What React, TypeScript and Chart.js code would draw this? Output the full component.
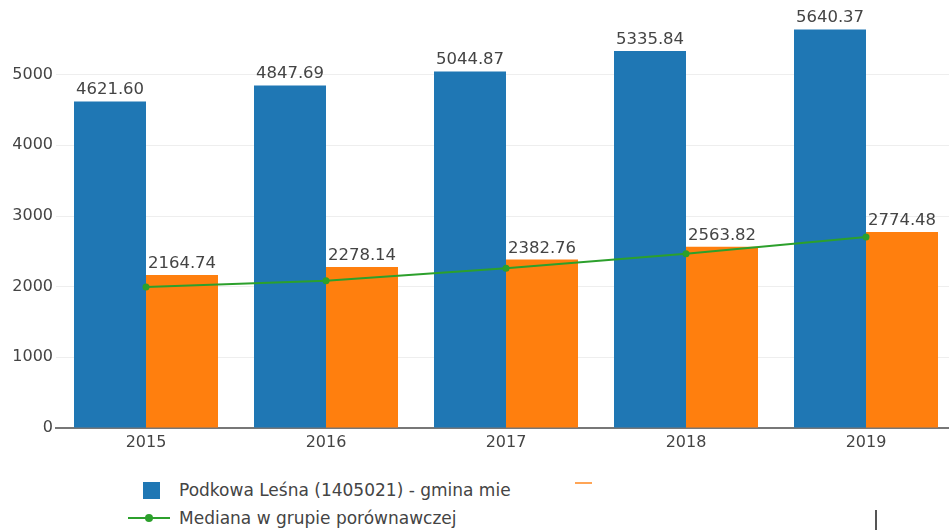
import React, { useEffect, useRef } from "react";
import { Chart, registerables } from "chart.js";

Chart.register(...registerables);

const years = ["2015", "2016", "2017", "2018", "2019"];
const podkowaValues = [4621.6, 4847.69, 5044.87, 5335.84, 5640.37];
const secondValues = [2164.74, 2278.14, 2382.76, 2563.82, 2774.48];
const medianValues = [1994, 2085, 2262, 2465, 2704];
const yTicks = [0, 1000, 2000, 3000, 4000, 5000];

const seriesNames = ["Podkowa Leśna (1405021) - gmina mie", "", "Mediana w grupie porównawczej"];

const FONT = "'DejaVu Sans', Verdana, sans-serif";

const barLabels = {
  id: "barLabels",
  afterDatasetDraw(chart: any, args: any) {
    const meta = args.meta;
    if (meta.type !== "bar") return;
    const ds = chart.data.datasets[args.index];
    const ctx = chart.ctx;
    ctx.save();
    ctx.font = `16.5px ${FONT}`;
    ctx.fillStyle = "#444";
    ctx.textAlign = "center";
    ctx.textBaseline = "alphabetic";
    meta.data.forEach((el: any, i: number) => {
      const v = ds.data[i] as number;
      ctx.fillText(v.toFixed(2), el.x, el.y - 7);
    });
    ctx.restore();
  },
};

export default function App() {
  const ref = useRef<HTMLCanvasElement | null>(null);
  useEffect(() => {
    if (!ref.current) return;
    const chart = new Chart(ref.current, {
      type: "bar",
      data: {
        labels: years,
        datasets: [
          {
            type: "bar",
            label: seriesNames[0],
            data: podkowaValues,
            backgroundColor: "#1f77b4",
            categoryPercentage: 0.8,
            barPercentage: 1.0,
            order: 1,
          },
          {
            type: "bar",
            label: seriesNames[1],
            data: secondValues,
            backgroundColor: "#ff7f0e",
            categoryPercentage: 0.8,
            barPercentage: 1.0,
            order: 1,
          },
          {
            type: "line",
            label: seriesNames[2],
            data: medianValues,
            borderColor: "#2ca02c",
            backgroundColor: "#2ca02c",
            borderWidth: 2,
            pointRadius: 3.5,
            pointBorderWidth: 0,
            tension: 0,
            order: 0,
          },
        ] as any,
      },
      options: {
        responsive: false,
        animation: false,
        layout: { padding: { top: 1, right: 4, left: 0, bottom: 0 } },
        plugins: { legend: { display: false }, tooltip: { enabled: false } },
        scales: {
          x: {
            offset: true,
            grid: { display: false, drawTicks: false },
            border: { display: true, color: "#777", width: 2 },
            ticks: { color: "#444", font: { family: FONT, size: 16 }, padding: 5 },
            afterFit(scale: any) {
              scale.height = 32;
              scale.paddingLeft = 0;
              scale.paddingRight = 0;
            },
          },
          y: {
            min: 0,
            max: 6000,
            afterBuildTicks(scale: any) {
              scale.ticks = yTicks.map((v) => ({ value: v }));
            },
            grid: { color: "#eeeeee", lineWidth: 1, drawTicks: false },
            border: { display: false },
            ticks: {
              color: "#444",
              font: { family: FONT, size: 16 },
              padding: 3,
              callback: (v: any) => String(v),
            },
            afterFit(scale: any) {
              scale.width = 56;
              scale.paddingTop = 0;
              scale.paddingBottom = 0;
            },
          },
        },
      },
      plugins: [barLabels],
    });
    return () => chart.destroy();
  }, []);

  return (
    <div
      style={{
        position: "fixed",
        left: 0,
        top: 0,
        width: 949,
        height: 530,
        overflow: "hidden",
        background: "#fff",
      }}
    >
      <canvas ref={ref} width={960} height={460} style={{ position: "absolute", left: 0, top: 0 }} />
      <div style={{ position: "absolute", left: 143, top: 482, width: 17, height: 17, background: "#1f77b4" }} />
      <div
        style={{
          position: "absolute",
          left: 179,
          top: 480,
          font: `17px ${FONT}`,
          color: "#444",
          whiteSpace: "nowrap",
          lineHeight: "20px",
        }}
      >
        {seriesNames[0]}
      </div>
      <div style={{ position: "absolute", left: 575, top: 482, width: 17, height: 2, background: "#ff7f0e", opacity: 0.7 }} />
      <div style={{ position: "absolute", left: 128, top: 517, width: 42, height: 2, background: "#2ca02c" }} />
      <div style={{ position: "absolute", left: 145, top: 514, width: 8, height: 8, borderRadius: 4, background: "#2ca02c" }} />
      <div
        style={{
          position: "absolute",
          left: 179,
          top: 508,
          font: `17px ${FONT}`,
          color: "#444",
          whiteSpace: "nowrap",
          lineHeight: "20px",
        }}
      >
        {seriesNames[2]}
      </div>
      <div style={{ position: "absolute", left: 875, top: 510, width: 2, height: 20, background: "#555" }} />
    </div>
  );
}
